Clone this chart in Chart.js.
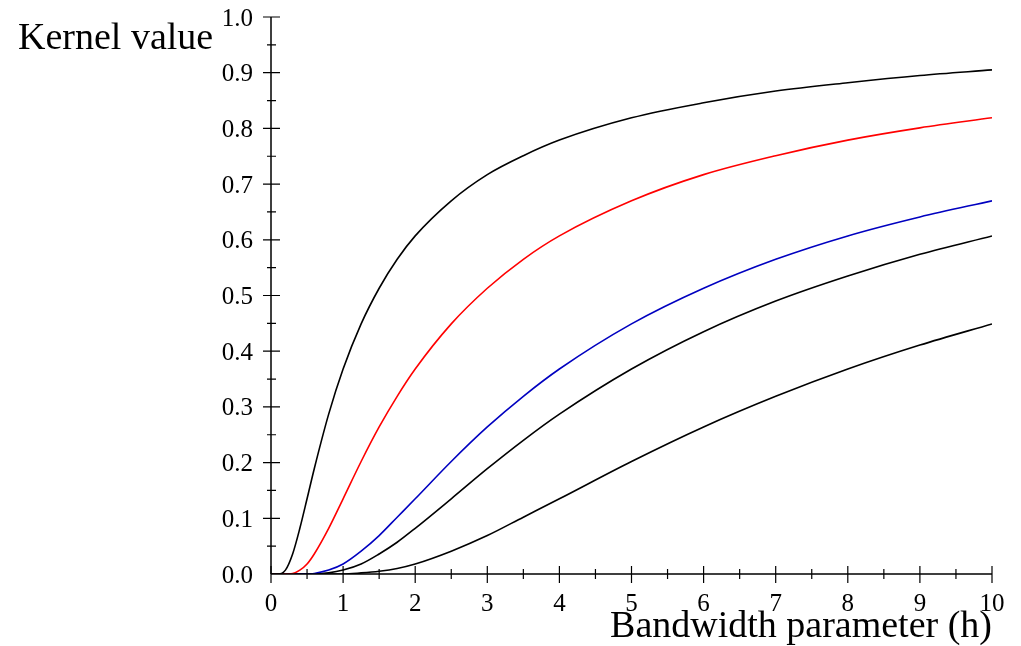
<!DOCTYPE html>
<html lang="en">

<head>
    <meta charset="UTF-8">
    <title>Kernel value vs bandwidth</title>
    <script src="https://cdn.jsdelivr.net/npm/chart.js"></script>
    <style>
        body { margin: 0; background: #fff; }
    </style>
</head>

<body>
    <div style="width: 1021px; height: 646px; position: relative;">
        <canvas id="kernelChart"></canvas>
    </div>
    <script>
        const bandwidth = [0, 0.1, 0.2, 0.3, 0.4, 0.5, 0.6, 0.8, 1, 1.25, 1.5, 1.75, 2, 2.5, 3, 3.5, 4, 5, 6, 7, 8, 9, 10];

        // Kernel values, top curve to bottom curve
        const curveTop = [0, 0.000, 0.007, 0.036, 0.082, 0.135, 0.189, 0.287, 0.368, 0.449, 0.513, 0.565, 0.607, 0.670, 0.717, 0.751, 0.779, 0.819, 0.846, 0.867, 0.882, 0.895, 0.905];
        const curveRed = [0, 0.000, 0.000, 0.001, 0.007, 0.018, 0.036, 0.082, 0.135, 0.202, 0.264, 0.319, 0.368, 0.449, 0.513, 0.565, 0.607, 0.670, 0.717, 0.751, 0.779, 0.801, 0.819];
        const curveBlue = [0, 0, 0, 0, 0.000, 0.000, 0.001, 0.007, 0.018, 0.041, 0.069, 0.102, 0.135, 0.202, 0.264, 0.319, 0.368, 0.449, 0.513, 0.565, 0.607, 0.641, 0.670];
        const curveMid = [0, 0, 0, 0, 0, 0.000, 0.000, 0.002, 0.007, 0.018, 0.036, 0.057, 0.082, 0.135, 0.189, 0.240, 0.287, 0.368, 0.435, 0.490, 0.535, 0.574, 0.607];
        const curveLow = [0, 0, 0, 0, 0, 0, 0, 0.000, 0.000, 0.002, 0.005, 0.010, 0.018, 0.041, 0.069, 0.102, 0.135, 0.202, 0.264, 0.319, 0.368, 0.411, 0.449];

        // Tick labels
        const xTickLabels = ['0', '1', '2', '3', '4', '5', '6', '7', '8', '9', '10'];
        const yTickLabels = ['0.0', '0.1', '0.2', '0.3', '0.4', '0.5', '0.6', '0.7', '0.8', '0.9', '1.0'];

        const xTitle = 'Bandwidth parameter (h)';
        const yTitle = 'Kernel value';

        const toPoints = ys => bandwidth.map((h, i) => ({ x: h, y: ys[i] }));

        const serif = '"Liberation Serif", "Times New Roman", serif';

        // Maple-style axes crossing at the origin, with major and minor ticks
        const axesPlugin = {
            id: 'mapleAxes',
            afterDraw(chart) {
                const c = chart.ctx;
                const xs = chart.scales.x;
                const ys = chart.scales.y;
                const x0 = xs.getPixelForValue(0);
                const y0 = ys.getPixelForValue(0);

                c.save();
                c.strokeStyle = '#000';
                c.lineWidth = 1.5;
                c.beginPath();
                c.moveTo(x0, y0);
                c.lineTo(xs.getPixelForValue(10), y0);
                c.moveTo(x0, y0);
                c.lineTo(x0, ys.getPixelForValue(1));
                c.stroke();

                c.lineWidth = 1.2;
                c.beginPath();
                // x ticks
                for (let i = 0; i <= 20; i++) {
                    const px = xs.getPixelForValue(i / 2);
                    const major = i % 2 === 0;
                    c.moveTo(px, y0 - (major ? 8 : 5));
                    c.lineTo(px, y0 + (major ? 9 : 5));
                }
                // y ticks
                for (let i = 1; i <= 20; i++) {
                    const py = ys.getPixelForValue(i / 20);
                    const major = i % 2 === 0;
                    c.moveTo(x0 - (major ? 8 : 4), py);
                    c.lineTo(x0 + (major ? 9 : 5), py);
                }
                c.stroke();

                c.fillStyle = '#000';
                c.font = '25px ' + serif;
                c.textAlign = 'center';
                c.textBaseline = 'middle';
                xTickLabels.forEach((t, i) => {
                    c.fillText(t, xs.getPixelForValue(i), y0 + 30);
                });
                c.textAlign = 'right';
                yTickLabels.forEach((t, i) => {
                    c.fillText(t, x0 - 18, ys.getPixelForValue(i / 10) + 2);
                });

                c.font = '38px ' + serif;
                c.textBaseline = 'alphabetic';
                c.textAlign = 'left';
                c.fillText(yTitle, 18, 49);
                c.textAlign = 'right';
                c.fillText(xTitle, xs.getPixelForValue(10), 637);
                c.restore();
            }
        };

        const lineStyle = color => ({
            borderColor: color,
            borderWidth: 1.6,
            pointRadius: 0,
            fill: false,
            cubicInterpolationMode: 'monotone',
        });

        const ctx = document.getElementById('kernelChart').getContext('2d');
        new Chart(ctx, {
            type: 'line',
            data: {
                datasets: [
                    { label: 'top', data: toPoints(curveTop), ...lineStyle('#000000') },
                    { label: 'red', data: toPoints(curveRed), ...lineStyle('#ff0000') },
                    { label: 'blue', data: toPoints(curveBlue), ...lineStyle('#0000c0') },
                    { label: 'mid', data: toPoints(curveMid), ...lineStyle('#000000') },
                    { label: 'low', data: toPoints(curveLow), ...lineStyle('#000000') },
                ],
            },
            options: {
                responsive: true,
                maintainAspectRatio: false,
                animation: false,
                layout: {
                    padding: { left: 271, right: 29, top: 17, bottom: 72 },
                },
                plugins: {
                    legend: { display: false },
                    tooltip: { enabled: false },
                },
                scales: {
                    x: { type: 'linear', min: 0, max: 10, display: false },
                    y: { min: 0, max: 1, display: false },
                },
            },
            plugins: [axesPlugin],
        });
    </script>
</body>

</html>
